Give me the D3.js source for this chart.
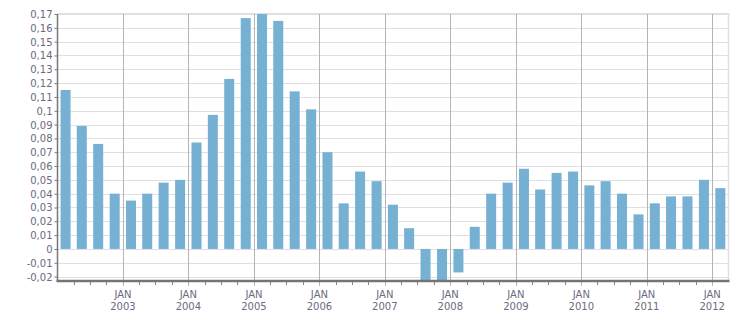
<!DOCTYPE html>
<html>
<head>
<meta charset="utf-8">
<script src="https://cdn.jsdelivr.net/npm/d3@7"></script>
<style>
  body { margin: 0; background: #fff; }
  text { font-family: "DejaVu Sans", Verdana, sans-serif; font-size: 10px; fill: #6a6a80; }
</style>
</head>
<body>
<div id="main"></div>
<script>
// quarterly values, 2002 Q1 .. 2012 Q1
let startYear = 2002;
let values = [
  0.115, 0.089, 0.076, 0.040,
  0.035, 0.040, 0.048, 0.050,
  0.077, 0.097, 0.123, 0.167,
  0.171, 0.165, 0.114, 0.101,
  0.070, 0.033, 0.056, 0.049,
  0.032, 0.015, -0.025, -0.025,
  -0.017, 0.016, 0.040, 0.048,
  0.058, 0.043, 0.055, 0.056,
  0.046, 0.049, 0.040, 0.025,
  0.033, 0.038, 0.038, 0.050,
  0.044
];
let yTicks = [-0.02, -0.01, 0, 0.01, 0.02, 0.03, 0.04, 0.05, 0.06, 0.07, 0.08,
  0.09, 0.1, 0.11, 0.12, 0.13, 0.14, 0.15, 0.16, 0.17];
let yearLabels = [2003, 2004, 2005, 2006, 2007, 2008, 2009, 2010, 2011, 2012];

let [width, height] = [751, 313];
let m = {left: 57.5, right: 728.5, top: 14, bottom: 281};

let svg = d3.select('#main').append('svg')
  .attr('width', width)
  .attr('height', height);

let x = d3.scaleTime()
  .domain([new Date(2002, 0, 1), new Date(2012, 3, 1)])
  .range([m.left, m.right]);
let y = d3.scaleLinear()
  .domain([-0.0232, 0.17])
  .range([m.bottom, m.top]);

let quarters = values.map((v, i) => {
  let start = new Date(startYear + Math.floor(i / 4), (i % 4) * 3, 1);
  let end = d3.timeMonth.offset(start, 3);
  return {start, end, value: v};
});

svg.append('clipPath').attr('id', 'plot')
  .append('rect')
  .attr('x', m.left).attr('y', m.top)
  .attr('width', m.right - m.left).attr('height', m.bottom - m.top);

// horizontal grid
svg.append('g')
  .selectAll('line')
  .data(yTicks)
  .join('line')
  .attr('x1', m.left).attr('x2', m.right)
  .attr('y1', d => Math.round(y(d)) + 0.5).attr('y2', d => Math.round(y(d)) + 0.5)
  .attr('stroke', '#e0e0e0');

// top + right border
svg.append('line')
  .attr('x1', m.left).attr('x2', m.right + 1)
  .attr('y1', m.top).attr('y2', m.top)
  .attr('stroke', '#e0e0e0').attr('stroke-width', 2);
svg.append('line')
  .attr('x1', m.right).attr('x2', m.right)
  .attr('y1', m.top).attr('y2', m.bottom)
  .attr('stroke', '#e0e0e0').attr('stroke-width', 1.5);

// vertical grid at JAN
let years = yearLabels.map(yr => new Date(yr, 0, 1));
svg.append('g')
  .selectAll('line')
  .data(years)
  .join('line')
  .attr('x1', d => Math.round(x(d)) + 0.5).attr('x2', d => Math.round(x(d)) + 0.5)
  .attr('y1', m.top).attr('y2', m.bottom + 5)
  .attr('stroke', '#b4b4b4');

// bars
svg.append('g')
  .attr('clip-path', 'url(#plot)')
  .selectAll('rect')
  .data(quarters)
  .join('rect')
  .attr('x', d => (x(d.start) + x(d.end)) / 2 - 5)
  .attr('width', 10)
  .attr('y', d => y(Math.max(0, d.value)))
  .attr('height', d => Math.abs(y(d.value) - y(0)))
  .attr('fill', '#76b0d2');

// y axis
let yAxis = d3.axisLeft(y)
  .tickValues(yTicks)
  .tickSize(3)
  .tickPadding(2)
  .tickFormat(d => String(+d.toFixed(2)).replace('.', ','));
let gy = svg.append('g')
  .attr('transform', `translate(${m.left},0)`)
  .call(yAxis);
gy.select('.domain').remove();
gy.selectAll('.tick line').attr('stroke', '#777');
gy.selectAll('.tick text').attr('dy', '0.35em');
svg.append('line')
  .attr('x1', m.left).attr('x2', m.left)
  .attr('y1', m.top).attr('y2', m.bottom)
  .attr('stroke', '#777').attr('stroke-width', 1.5);

// x axis minor ticks (quarter starts)
let minor = quarters.map(d => d.start).filter(d => d.getMonth() !== 0);
svg.append('g')
  .selectAll('line')
  .data(minor)
  .join('line')
  .attr('x1', d => Math.round(x(d)) + 0.5).attr('x2', d => Math.round(x(d)) + 0.5)
  .attr('y1', m.bottom).attr('y2', m.bottom + 4)
  .attr('stroke', '#888');

svg.append('line')
  .attr('x1', m.left - 1).attr('x2', m.right + 1)
  .attr('y1', m.bottom).attr('y2', m.bottom)
  .attr('stroke', '#747474').attr('stroke-width', 2.5);

// x labels
let gx = svg.append('g')
  .selectAll('g')
  .data(years)
  .join('g')
  .attr('transform', d => `translate(${x(d)},0)`);
gx.append('text')
  .attr('y', 298)
  .attr('text-anchor', 'middle')
  .text('JAN');
gx.append('text')
  .attr('y', 310)
  .attr('text-anchor', 'middle')
  .text(d => d.getFullYear());
</script>
</body>
</html>
